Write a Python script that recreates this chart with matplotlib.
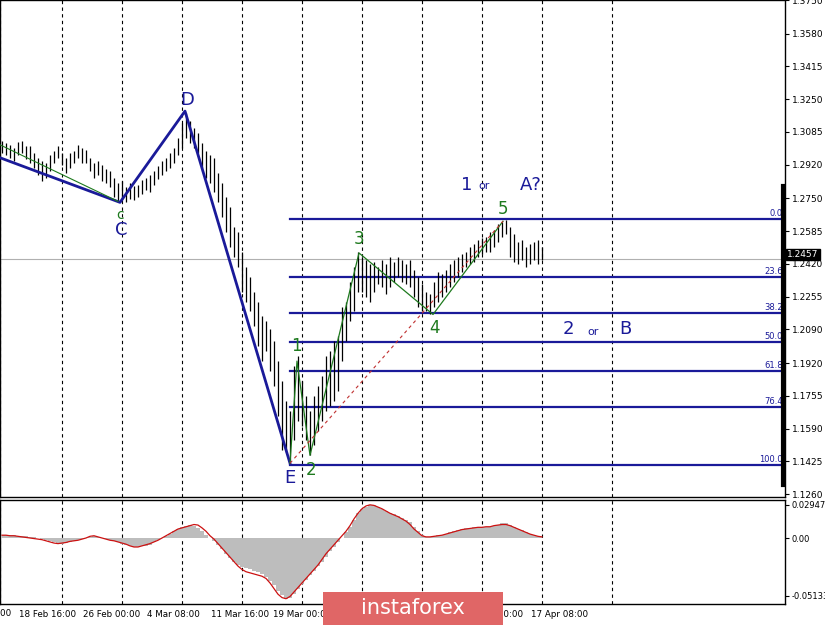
import matplotlib
matplotlib.use("Agg")
import matplotlib.pyplot as plt
import numpy as np

highs = [1.3040,1.3030,1.3020,1.3005,1.3035,1.3040,1.3015,1.3015,1.2980,1.2955,1.2940,1.2930,1.2970,1.2990,1.3015,1.2980,1.2955,1.2980,1.2990,1.3020,
 1.3005,1.2995,1.2955,1.2930,1.2940,1.2920,1.2900,1.2890,1.2855,1.2830,1.2840,1.2805,1.2830,1.2815,1.2820,1.2845,1.2855,1.2870,1.2890,1.2915,
 1.2940,1.2955,1.2980,1.3005,1.3055,1.3130,1.3180,1.3140,1.3105,1.3080,1.3030,1.2990,1.2970,1.2955,1.2880,1.2830,1.2755,1.2705,1.2605,1.2580,
 1.2480,1.2405,1.2355,1.2280,1.2230,1.2155,1.2130,1.2090,1.2030,1.1930,1.1830,1.1730,1.1680,1.1905,1.1955,1.1830,1.1755,1.1680,1.1755,1.1805,
 1.1855,1.1955,1.1980,1.2030,1.2055,1.2205,1.2230,1.2330,1.2405,1.2480,1.2455,1.2440,1.2420,1.2430,1.2405,1.2440,1.2420,1.2455,1.2430,1.2455,
 1.2440,1.2420,1.2440,1.2390,1.2355,1.2320,1.2280,1.2270,1.2330,1.2380,1.2370,1.2390,1.2420,1.2440,1.2455,1.2470,1.2480,1.2505,1.2520,1.2540,
 1.2550,1.2555,1.2580,1.2590,1.2620,1.2630,1.2640,1.2605,1.2570,1.2530,1.2540,1.2505,1.2520,1.2530,1.2540,1.2505]
lows = [1.2980,1.2970,1.2955,1.2940,1.2970,1.2980,1.2950,1.2930,1.2905,1.2870,1.2840,1.2855,1.2890,1.2930,1.2955,1.2920,1.2880,1.2905,1.2930,1.2955,
 1.2930,1.2930,1.2890,1.2855,1.2870,1.2840,1.2830,1.2805,1.2755,1.2730,1.2740,1.2730,1.2745,1.2740,1.2755,1.2770,1.2790,1.2780,1.2820,1.2850,
 1.2870,1.2890,1.2905,1.2930,1.2970,1.3005,1.3055,1.3030,1.3005,1.2980,1.2905,1.2855,1.2830,1.2780,1.2730,1.2655,1.2580,1.2505,1.2455,1.2405,
 1.2280,1.2230,1.2180,1.2105,1.2005,1.1930,1.1980,1.1880,1.1805,1.1655,1.1480,1.1470,1.1430,1.1530,1.1630,1.1605,1.1530,1.1455,1.1505,1.1580,
 1.1630,1.1680,1.1705,1.1730,1.1780,1.1930,1.2030,1.2130,1.2180,1.2280,1.2280,1.2255,1.2230,1.2280,1.2320,1.2305,1.2270,1.2305,1.2330,1.2355,
 1.2330,1.2320,1.2305,1.2255,1.2205,1.2180,1.2180,1.2165,1.2205,1.2230,1.2255,1.2280,1.2305,1.2330,1.2355,1.2380,1.2405,1.2420,1.2430,1.2455,
 1.2470,1.2480,1.2480,1.2505,1.2530,1.2555,1.2570,1.2455,1.2430,1.2420,1.2440,1.2405,1.2420,1.2440,1.2420,1.2440]
last_price = 1.2457

macd_hist = [3,3,2.5,2.5,2,2,1.5,1,0.5,0, -1,-2,-3,-4,-5,-5,-4.5,-4,-3,-2, -1,0,1,1.5,1,
 0,-1,-2,-3,-4,-5,-6,-7,-8,-8,-7.5,-7,-6,-4,-2, 0,2,4,6,8,10,11,12,11,9, 6,3,0,-3,
 -6,-10,-14,-18,-21,-24,-26,-27,-28,-29,-30, -32,-35,-38,-42,-47,-51, -54,-53,-50,-45,-41,
 -37,-33,-29,-25,-21,-17,-12,-8,-4,0, 5,10,16,22,26,28,29.5, 29,28,26,24,22,21,20,18,16,14,10,6,3,
 1,1,2,3,3,4,5,6,7,8,9,9, 10,10,10,10,10,11,12,13,13, 12,10,8,7,5,4,3,2,1]
macd_signal = [2.5,2.5,2,2,1.5,1,0.5,0,-0.5,-1, -1.5,-2.5,-3.5,-4.5,-5,-4.5,-4,-3,-2.5,-2, -1,0,1.5,2,1,
 0,-1,-2,-2.5,-3.5,-4.5,-5.5,-7,-8,-8,-7,-6,-5,-3.5,-2, 0,2,4,6,8,9,10,11,12,11.5, 9,6,2,-1,
 -5,-9,-13,-17,-21,-25,-28,-30,-31,-32,-33, -34,-36,-40,-45,-50,-53, -54,-52,-48,-44,-40,
 -36,-32,-28,-24,-19,-14,-10,-6,-2,2, 6,11,17,22,26,28.5,29.5, 29,27.5,26,24,22,20.5,19,17,15,12,8,5,2,
 1,1,1.5,2,2.5,3.5,4.5,5.5,6.5,7.5,8,8.5, 9,9.5,9.5,10,10,11,11.5,12,12, 11,9.5,8,6.5,5,3.5,2.5,1.5,1]

price_ticks = [1.3750,1.3580,1.3415,1.3250,1.3085,1.2920,1.2750,1.2585,1.2420,1.2255,1.2090,1.1920,1.1755,1.1590,1.1425,1.1260]
first_label = "11 Feb 08:00"
date_labels = ["18 Feb 16:00","26 Feb 00:00","4 Mar 08:00","11 Mar 16:00","19 Mar 00:00",
               "26 Mar 08:00","3 Apr 16:00","10 Apr 00:00","17 Apr 08:00"]
date_pos = [11.5, 27.5, 42.75, 59.5, 75, 90.75, 107, 123.25, 139.5]
grid_pos = [-0.5, 15, 30, 45, 60, 75, 90, 105, 120, 135, 152.5]

abc_x = [-0.5, 29.5, 45.75, 72]
abc_y = [1.2955, 1.2730, 1.3190, 1.1415]
imp_x = [72, 73.75, 77, 89.25, 107.75, 125.25]
imp_y = [1.1415, 1.1930, 1.1455, 1.2475, 1.2165, 1.2635]
fib_hi, fib_lo = 1.2645, 1.1405
fib_levels = [0.0, 23.6, 38.2, 50.0, 61.8, 76.4, 100.0]

navy = "#1a1a99"
green = "#1e7a1e"
fig = plt.figure(figsize=(8.25, 6.25), dpi=100)
ax = fig.add_axes([0, 1-497/625, 785/825, 497/625])
axm = fig.add_axes([0, 1-604/625, 785/825, 104/625], sharex=ax)

x = np.arange(len(highs))
ax.vlines(x, lows, highs, color="black", lw=0.9, zorder=3)
ax.set_ylim(1.1245, 1.373)
for g in grid_pos:
    ax.axvline(g, color="black", lw=0.8, ls=(0, (3, 3)), zorder=1)
    axm.axvline(g, color="black", lw=0.8, ls=(0, (3, 3)), zorder=1)
ax.axhline(last_price - 0.0012, color="#b0b0b0", lw=0.8, zorder=1)

ax.plot(abc_x, abc_y, color=navy, lw=2, zorder=4)
ax.plot([-0.5, 29], [1.3020, 1.2735], color=green, lw=0.8, zorder=4)
ax.plot(imp_x, imp_y, color=green, lw=0.9, zorder=4)
ax.plot([imp_x[0], imp_x[-1]], [imp_y[0], imp_y[-1]], color="#c03030", lw=0.8, ls=(0, (3, 3)), zorder=4)
for lv in fib_levels:
    p = fib_hi - lv / 100 * (fib_hi - fib_lo)
    ax.plot([72, 195.5], [p, p], color=navy, lw=1.6, zorder=2)
    ax.text(195.2, p + 0.0008, f"{lv:.1f}", color=navy, fontsize=6, ha="right", va="bottom")
ax.plot([195.25, 195.25], [1.1305, 1.2815], color="black", lw=3, zorder=5, clip_on=False)

def lab(xv, yv, s, c, fs=13):
    ax.text(xv, yv, s, color=c, fontsize=fs, ha="center", va="center", zorder=6)
lab(46.25, 1.3245, "D", navy)
lab(29.75, 1.2590, "C", navy)
lab(29.5, 1.2665, "c", green, 10)
lab(72, 1.1340, "E", navy)
lab(77.25, 1.1380, "2", green, 12)
lab(73.5, 1.2005, "1", green, 12)
lab(89.25, 1.2545, "3", green, 12)
lab(108, 1.2095, "4", green, 12)
lab(125.25, 1.2695, "5", green, 12)
lab(116.25, 1.2820, "1", navy)
lab(120.5, 1.2815, "or", navy, 8)
lab(132.25, 1.2820, "A?", navy)
lab(141.5, 1.2090, "2", navy)
lab(147.75, 1.2075, "or", navy, 8)
lab(155.75, 1.2090, "B", navy)

ax.yaxis.tick_right()
ax.set_yticks(price_ticks)
ax.set_yticklabels([f"{t:.4f}" for t in price_ticks], fontsize=6.5)
ax.tick_params(axis="y", length=3, pad=2)
ax.tick_params(axis="x", bottom=False, labelbottom=False)
ax.text(1.003, (last_price - 1.1245) / (1.373 - 1.1245), f"{last_price:.4f}", transform=ax.transAxes,
        fontsize=6.5, color="white", va="center", ha="left",
        bbox=dict(boxstyle="square,pad=0.15", fc="black", ec="black"), zorder=7, clip_on=False)

axm.fill_between(x, 0, np.array(macd_hist) / 1000, step="mid", color="#bdbdbd", lw=0, zorder=2)
axm.plot(x, np.array(macd_signal) / 1000, color="#cc1111", lw=0.9, zorder=3)
axm.set_ylim(-0.0587, 0.0338)
axm.yaxis.tick_right()
axm.set_yticks([0.02947, 0.0, -0.05133])
axm.set_yticklabels(["0.02947", "0.00", "-0.05133"], fontsize=6)
axm.tick_params(axis="y", length=3, pad=2)
axm.set_xticks(date_pos)
axm.set_xticklabels(date_labels, fontsize=6.3)
axm.tick_params(axis="x", length=0, pad=4)
for a in (ax, axm):
    for s in a.spines.values():
        s.set_linewidth(1)
ax.set_xlim(-0.5, 195.75)

fig.text(11/825, 1 - 613/625, first_label, fontsize=6.3, ha="right", va="center")
fig.patches.append(plt.Rectangle((323/825, 0), 180/825, 33/625, transform=fig.transFigure,
                                 fc="#e06666", ec="none", zorder=10))
fig.text(413/825, 17/625, "instaforex", color="white", fontsize=15, ha="center", va="center", zorder=11)
fig.savefig("out.png", dpi=100)
